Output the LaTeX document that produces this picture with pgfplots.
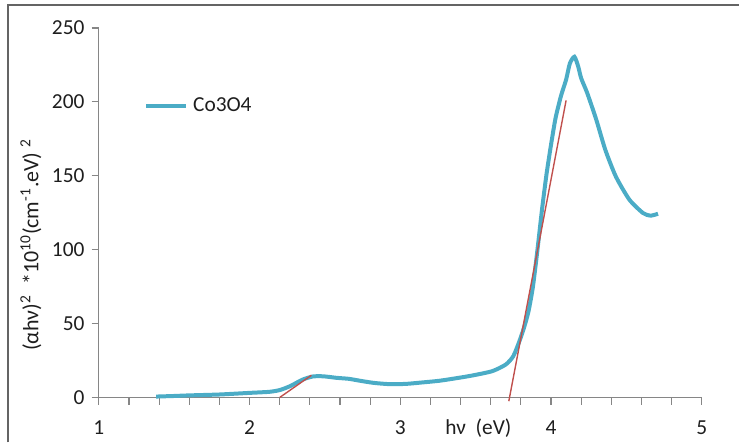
\documentclass[border=0pt]{standalone}
\usepackage{fontspec}
\setmainfont{Carlito}
\usepackage{pgfplots}
\pgfplotsset{compat=1.18}
\definecolor{seriesblue}{RGB}{75,172,198}
\definecolor{fitred}{RGB}{192,80,77}
\definecolor{axisgray}{RGB}{134,134,134}
\definecolor{framegray}{RGB}{100,100,100}
\definecolor{labeltext}{RGB}{30,30,30}

\begin{document}
\fontsize{10.5}{12.5}\selectfont
\begin{tikzpicture}
% page area and chart frame
\path (0,0) rectangle (370pt,221.5pt);
\draw[line width=1pt, framegray] (4pt,0) -- (4pt,219pt) -- (370pt,219pt);

\begin{axis}[
  at={(49.5pt,22.5pt)}, anchor=south west,
  scale only axis, width=301.85pt, height=185pt,
  xmin=1, xmax=5, ymin=0, ymax=250,
  clip=false,
  axis x line=bottom, axis y line=left,
  axis line style={axisgray, line width=0.6pt, -},
  every tick/.style={axisgray, line width=0.6pt},
  tick align=outside,
  major tick length=3.6pt, minor tick length=3.6pt,
  xtick={1,2,3,4,5}, minor x tick num=4,
  ytick={0,50,100,150,200,250},
  /pgf/number format/assume math mode=true,
  tick label style={font=\fontsize{10.7}{12.5}\selectfont, text=labeltext},
  xticklabel style={anchor=base, inner sep=0pt, yshift=-14.9pt},
  yticklabel style={anchor=east, inner sep=0pt, xshift=-3.4pt},
  legend style={draw=none, fill=none, at={(axis cs:1.298,197)}, anchor=west,
    inner sep=0pt, font=\fontsize{10.7}{12.5}\selectfont, text=labeltext,
    nodes={inner sep=2.5pt}},
  legend image code/.code={\draw[line width=2pt] (0pt,0pt) -- (20pt,0pt);},
]
% measured (alpha h nu)^2 curve
\addplot[seriesblue, line width=2pt, smooth, tension=0.4] coordinates {
  (1.38,0.6) (1.50,1.0) (1.60,1.4) (1.80,2.0) (2.00,3.1) (2.13,3.8)
  (2.20,5.0) (2.27,7.7) (2.35,12.0) (2.42,14.2) (2.49,14.3) (2.575,13.3)
  (2.66,12.6) (2.71,11.7) (2.82,9.9) (2.93,9.0) (3.04,9.2) (3.15,10.2)
  (3.26,11.3) (3.37,13.0) (3.48,14.9) (3.61,17.8) (3.70,22.3) (3.75,28)
  (3.79,38) (3.82,47) (3.85,58) (3.88,75) (3.91,100) (3.94,127)
  (3.97,151) (4.00,171) (4.03,189) (4.066,204) (4.10,215) (4.125,226)
  (4.155,230.5) (4.18,224) (4.20,216) (4.24,206) (4.30,188) (4.36,167.6)
  (4.43,149.5) (4.52,133.8) (4.61,124.8) (4.66,123) (4.71,124.3)
};
\addlegendentry{Co3O4}
% linear extrapolations to the energy axis
\addplot[fitred, line width=0.7pt, forget plot] coordinates {(2.20,0) (2.41,15)};
\addplot[fitred, line width=0.7pt, forget plot] coordinates {(3.72,-2.5) (4.10,201)};
\end{axis}

\node[anchor=base, text=labeltext] at (239.5pt,4pt) {\fontsize{10.7}{12.5}\selectfont hν\ \ (eV)};
\node[rotate=90, text=labeltext] at (15.5pt,99pt)
  {\fontsize{11}{13}\selectfont (αhν)\textsuperscript{2}\ \ *10\textsuperscript{10}(cm\textsuperscript{-1}.eV)\ \textsuperscript{2}};
\end{tikzpicture}
\end{document}
